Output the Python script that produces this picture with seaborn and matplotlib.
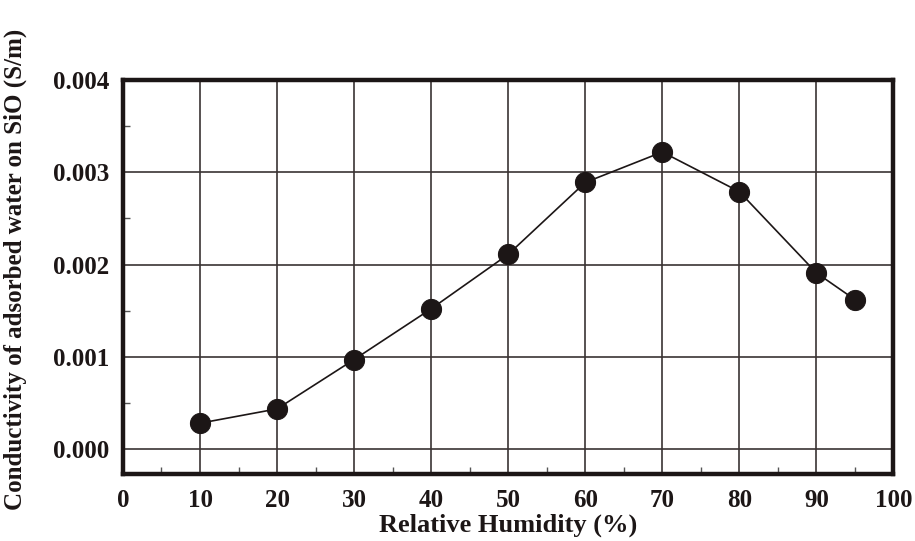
import matplotlib
matplotlib.use("Agg")
import matplotlib.pyplot as plt
import seaborn as sns
import pandas as pd
from matplotlib.ticker import MultipleLocator

humidity = [10, 20, 30, 40, 50, 60, 70, 80, 90, 95]
conductivity = [0.00028, 0.000435, 0.00097, 0.00152, 0.00211, 0.00289, 0.00322, 0.00279, 0.00191, 0.00162]
x_ticks = [0, 10, 20, 30, 40, 50, 60, 70, 80, 90, 100]
y_ticks = [0.000, 0.001, 0.002, 0.003, 0.004]
y_tick_labels = ["0.000", "0.001", "0.002", "0.003", "0.004"]

df = pd.DataFrame({"Relative Humidity (%)": humidity, "Conductivity": conductivity})

sns.set_theme(style="white")
plt.rcParams['font.family'] = ['Liberation Serif', 'DejaVu Serif']

fig = plt.figure(figsize=(9.15, 5.41), dpi=100)
ax = fig.add_axes([0.1344, 0.124, 0.842, 0.728])

ink = "#1c1616"
sns.lineplot(data=df, x="Relative Humidity (%)", y="Conductivity", ax=ax,
             color=ink, linewidth=1.2, marker="o", markersize=14.5,
             markerfacecolor=ink, markeredgecolor=ink, zorder=3)

ax.set_xlim(0, 100)
ax.set_ylim(-0.00027, 0.004)
ax.set_xticks(x_ticks)
ax.set_xticklabels([str(t) for t in x_ticks])
ax.set_yticks(y_ticks)
ax.set_yticklabels(y_tick_labels)
ax.xaxis.set_minor_locator(MultipleLocator(5))
ax.yaxis.set_minor_locator(MultipleLocator(0.0005))

ax.grid(True, which="major", color="#3a3434", linewidth=1.2)
ax.set_axisbelow(True)
for s in ax.spines.values():
    s.set_visible(True)
    s.set_linewidth(3.2)
    s.set_color(ink)

ax.tick_params(axis="x", which="major", length=0, pad=11, labelsize=18, labelcolor=ink)
ax.tick_params(axis="y", which="major", length=0, pad=10, labelsize=18, labelcolor=ink)
ax.tick_params(which="minor", direction="in", length=5, width=1, color="#555", bottom=True, left=True)
for lab in ax.get_xticklabels() + ax.get_yticklabels():
    lab.set_fontweight("bold")

ax.set_xlabel("Relative Humidity (%)", fontsize=19, fontweight="bold", color=ink)
ax.set_ylabel("Conductivity of adsorbed water on SiO (S/m)", fontsize=18, fontweight="bold", color=ink)
ax.xaxis.set_label_coords(0.5, -0.10)
ax.yaxis.set_label_coords(-0.125, 0.52)

fig.savefig("out.png", dpi=100)
